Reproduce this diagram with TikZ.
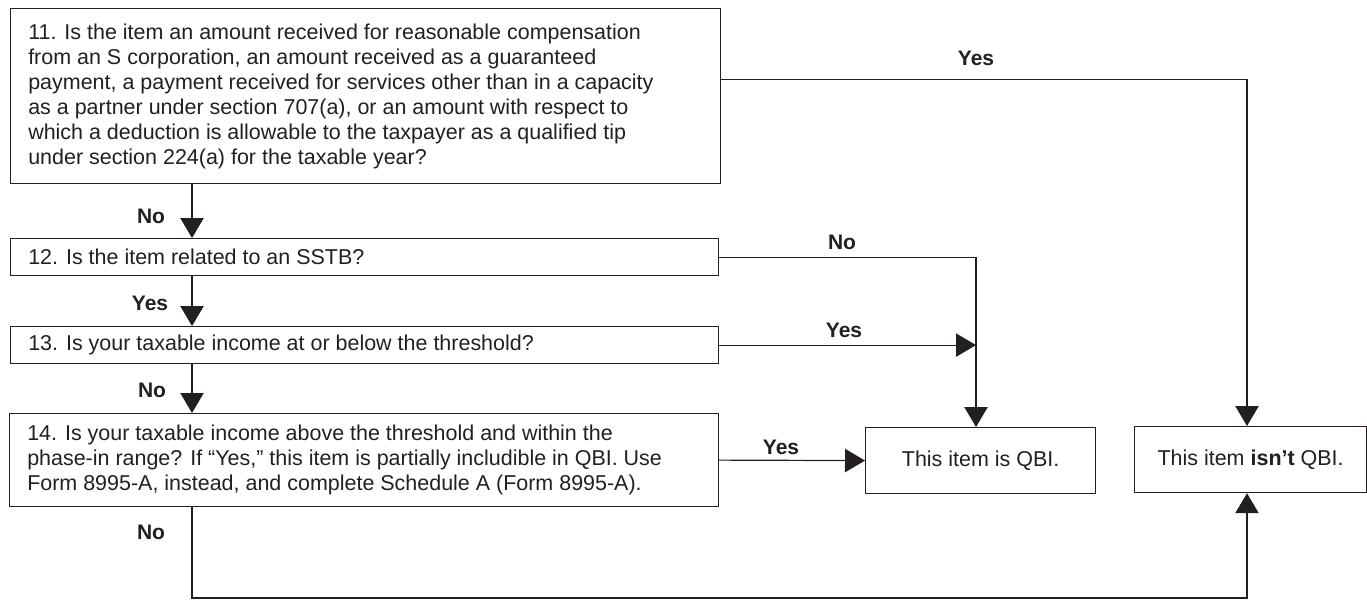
\documentclass[tikz,border=0pt]{standalone}
\usepackage{fontspec}
\setmainfont{Liberation Sans}
\usetikzlibrary{arrows.meta,calc}
\definecolor{ink}{HTML}{231F20}
\begin{document}
\begin{tikzpicture}[x=0.75pt,y=-0.75pt,
  box/.style={draw=ink,line width=0.9pt,anchor=north west,inner sep=0pt,rectangle,
    font=\fontsize{16.1pt}{18.75pt}\selectfont,text=ink},
  txt/.style={anchor=west,align=left,inner sep=0pt,font=\fontsize{16.1pt}{18.75pt}\selectfont,text=ink},
  lbl/.style={font=\fontsize{15.75pt}{18pt}\selectfont\bfseries,text=ink,inner sep=0pt},
  conn/.style={draw=ink,line width=0.9pt},
  arr/.style={conn,-{Triangle[length=15pt,width=17.5pt]}},
]
\useasboundingbox (0,0) rectangle (1367,601);

% boxes
\node[box,minimum width=532.5pt,minimum height=131.25pt] (b11) at (10,8) {};
\node[box,minimum width=531pt,minimum height=27.75pt] (b12) at (10,238) {};
\node[box,minimum width=531pt,minimum height=27.75pt] (b13) at (10,326) {};
\node[box,minimum width=531.75pt,minimum height=69.75pt] (b14) at (9,413) {};
\node[box,minimum width=172.5pt,minimum height=49.5pt] (qbi) at (865,427) {This item is QBI.};
\node[box,minimum width=174pt,minimum height=49.5pt] (isnt) at (1134,426) {This item \textbf{isn’t} QBI.};

% box texts
\node[txt] (t11) at ([xshift=13.5pt]b11.west) {11. Is the item an amount received for reasonable compensation\\
from an S corporation, an amount received as a guaranteed\\
payment, a payment received for services other than in a capacity\\
as a partner under section 707(a), or an amount with respect to\\
which a deduction is allowable to the taxpayer as a qualified tip\\
under section 224(a) for the taxable year?};
\node[txt] (t12) at ([xshift=13.5pt]b12.west) {12. Is the item related to an SSTB?};
\node[txt] (t13) at ([xshift=13.5pt]b13.west) {13. Is your taxable income at or below the threshold?};
\node[txt] (t14) at ([xshift=13.5pt]b14.west) {14. Is your taxable income above the threshold and within the\\
phase-in range? If “Yes,” this item is partially includible in QBI. Use\\
Form 8995-A, instead, and complete Schedule A (Form 8995-A).};

% helper coordinates
\coordinate (ax) at (192,0);
\coordinate (jx) at (976,0);
\coordinate (rx) at (1247,0);
\coordinate (bot) at (0,598);

% connectors
\draw[arr] (b11.south -| ax) -- (b12.north -| ax);
\draw[arr] (b12.south -| ax) -- (b13.north -| ax);
\draw[arr] (b13.south -| ax) -- (b14.north -| ax);
\draw[arr] ([yshift=12.4pt]b11.east) -| (isnt.north -| rx);
\draw[arr] (b12.east) -| (qbi.north -| jx);
\draw[arr] (b13.east) -- (b13.east -| jx);
\draw[arr] (b14.east) -- (qbi.west);
\draw[arr] (b14.south -| ax) |- (bot -| rx) -- (isnt.south -| rx);

% labels
\node[lbl] (l1) at (151,216) {No};
\node[lbl] (l2) at (150,303) {Yes};
\node[lbl] (l3) at (152,390) {No};
\node[lbl] (l4) at (151,532) {No};
\node[lbl] (l5) at (976,58) {Yes};
\node[lbl] (l6) at (842,242) {No};
\node[lbl] (l7) at (844,330) {Yes};
\node[lbl] (l8) at (781,447) {Yes};
\end{tikzpicture}
\end{document}
